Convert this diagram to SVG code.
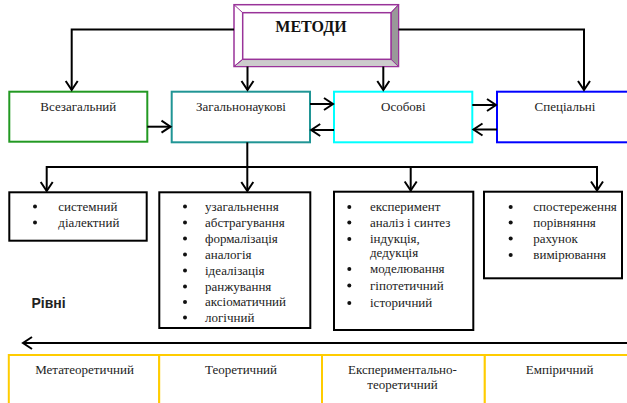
<svg xmlns="http://www.w3.org/2000/svg" width="627" height="403" viewBox="0 0 627 403">
<style>
.t{font-family:"Liberation Serif","Times New Roman",serif;font-size:13px;fill:#222}
.c{text-anchor:middle}
.dot{fill:#111}
.box{fill:#fff;stroke-width:2}
.lb{fill:#fff;stroke:#000;stroke-width:2}
.lvl{fill:#fff;stroke:#ffcc00;stroke-width:2}
.con{fill:none;stroke:#000;stroke-width:2}
</style>
<defs>
<marker id="arr" markerUnits="userSpaceOnUse" markerWidth="16" markerHeight="16" viewBox="-11 -8 13 16" refX="0" refY="0" orient="auto">
<path d="M-9,-6 L0,0 L-9,6" fill="none" stroke="#000" stroke-width="2"/>
</marker>
</defs>
<rect width="627" height="403" fill="#fff"/>

<g id="metody">
<rect x="234" y="4.7" width="164.5" height="61.8" fill="#fff" stroke="#993399" stroke-width="1.5"/>
<polygon points="398.5,4.7 398.5,66.5 391,59.3 391,12.7" fill="#999" stroke="#993399" stroke-width="1"/>
<polygon points="234,66.5 398.5,66.5 391,59.3 242.7,59.3" fill="#ccc" stroke="#993399" stroke-width="1"/>
<line x1="234" y1="4.7" x2="242.7" y2="12.7" stroke="#993399" stroke-width="1"/>
<line x1="398.5" y1="4.7" x2="391" y2="12.7" stroke="#993399" stroke-width="1"/>
<line x1="234" y1="66.5" x2="242.7" y2="59.3" stroke="#993399" stroke-width="1"/>
<rect x="242.7" y="12.7" width="148.3" height="46.6" fill="#fff" stroke="#993399" stroke-width="1.5"/>
<text x="311" y="32" text-anchor="middle" style="font-family:'Liberation Serif','Times New Roman',serif;font-size:16px;font-weight:bold;fill:#111">МЕТОДИ</text>
</g>

<g id="vsezagalnyi">
<rect class="box" x="9.3" y="91.7" width="138" height="50" stroke="#229922"/>
<text class="t c" x="78.3" y="111">Всезагальний</text>
</g>
<g id="zagalnonaukovi">
<rect class="box" x="171.7" y="91.7" width="138.3" height="50.6" stroke="#209595"/>
<text class="t c" x="241" y="110.5">Загальнонаукові</text>
</g>
<g id="osobovi">
<rect class="box" x="334" y="91.7" width="138.3" height="50.6" stroke="#00ffff"/>
<text class="t c" x="403.3" y="111">Особові</text>
</g>
<g id="spetsialni">
<rect class="box" x="497" y="91.7" width="136" height="50.6" stroke="#0000ff"/>
<text class="t c" x="565" y="111">Спеціальні</text>
</g>

<g id="list1">
<rect class="lb" x="9.3" y="192.3" width="137.4" height="48.4"/>
<circle class="dot" cx="35" cy="206.5" r="2"/><text class="t" x="58.3" y="210.5">системний</text>
<circle class="dot" cx="35" cy="222.5" r="2"/><text class="t" x="58.3" y="226.5">діалектний</text>
</g>
<g id="list2">
<rect class="lb" x="159.3" y="192.3" width="151" height="135.7"/>
<circle class="dot" cx="185" cy="206.5" r="2"/><text class="t" x="205" y="210.5">узагальнення</text>
<circle class="dot" cx="185" cy="222.5" r="2"/><text class="t" x="205" y="226.5">абстрагування</text>
<circle class="dot" cx="185" cy="238.5" r="2"/><text class="t" x="205" y="242.5">формалізація</text>
<circle class="dot" cx="185" cy="254.5" r="2"/><text class="t" x="205" y="258.5">аналогія</text>
<circle class="dot" cx="185" cy="270.5" r="2"/><text class="t" x="205" y="274.5">ідеалізація</text>
<circle class="dot" cx="185" cy="286.5" r="2"/><text class="t" x="205" y="290.5">ранжування</text>
<circle class="dot" cx="185" cy="302" r="2"/><text class="t" x="205" y="306">аксіоматичний</text>
<circle class="dot" cx="185" cy="317.5" r="2"/><text class="t" x="205" y="321.5">логічний</text>
</g>
<g id="list3">
<rect class="lb" x="334" y="191.7" width="139.3" height="138.3"/>
<circle class="dot" cx="349.3" cy="207" r="2"/><text class="t" x="370" y="211">експеримент</text>
<circle class="dot" cx="349.3" cy="222.5" r="2"/><text class="t" x="370" y="226.5">аналіз і синтез</text>
<circle class="dot" cx="349.3" cy="239" r="2"/><text class="t" x="370" y="243">індукція,</text>
<text class="t" x="370" y="256.5">дедукція</text>
<circle class="dot" cx="349.3" cy="269" r="2"/><text class="t" x="370" y="273">моделювання</text>
<circle class="dot" cx="349.3" cy="285.5" r="2"/><text class="t" x="370" y="289.5">гіпотетичний</text>
<circle class="dot" cx="349.3" cy="303" r="2"/><text class="t" x="370" y="307">історичний</text>
</g>
<g id="list4">
<rect class="lb" x="484" y="191.7" width="138" height="86.6"/>
<circle class="dot" cx="510.7" cy="207" r="2"/><text class="t" x="533.3" y="211">спостереження</text>
<circle class="dot" cx="510.7" cy="222.5" r="2"/><text class="t" x="533.3" y="226.5">порівняння</text>
<circle class="dot" cx="510.7" cy="238.5" r="2"/><text class="t" x="533.3" y="242.5">рахунок</text>
<circle class="dot" cx="510.7" cy="255" r="2"/><text class="t" x="533.3" y="259">вимірювання</text>
</g>

<g id="rivni">
<text x="31.5" y="308" style="font-family:'Liberation Sans',Arial,sans-serif;font-size:14px;font-weight:bold;fill:#222">Рівні</text>
</g>

<g id="levels">
<rect class="lvl" x="8.8" y="355" width="150.4" height="60"/>
<rect class="lvl" x="159.2" y="355" width="162.8" height="60"/>
<rect class="lvl" x="322" y="355" width="162.8" height="60"/>
<rect class="lvl" x="484.8" y="355" width="150" height="60"/>
<text class="t c" x="84.5" y="374">Метатеоретичний</text>
<text class="t c" x="241" y="374">Теоретичний</text>
<text class="t c" x="402.5" y="374">Експериментально-</text>
<text class="t c" x="402.5" y="389">теоретичний</text>
<text class="t c" x="559.6" y="374">Емпіричний</text>
</g>

<g id="connectors">
<polyline class="con" points="234,29.5 71.7,29.5 71.7,90" marker-end="url(#arr)"/>
<polyline class="con" points="398.5,29.5 584,29.5 584,90" marker-end="url(#arr)"/>
<line class="con" x1="247.5" y1="66.5" x2="247.5" y2="90" marker-end="url(#arr)"/>
<line class="con" x1="383.3" y1="66.5" x2="383.3" y2="90" marker-end="url(#arr)"/>
<line class="con" x1="147.3" y1="126.7" x2="170.5" y2="126.7" marker-end="url(#arr)"/>
<line class="con" x1="310" y1="104" x2="333" y2="104" marker-end="url(#arr)"/>
<line class="con" x1="334" y1="130" x2="311.2" y2="130" marker-end="url(#arr)"/>
<line class="con" x1="472.3" y1="105" x2="496" y2="105" marker-end="url(#arr)"/>
<line class="con" x1="497" y1="129.5" x2="473.5" y2="129.5" marker-end="url(#arr)"/>
<line class="con" x1="247.3" y1="142.3" x2="247.3" y2="191" marker-end="url(#arr)"/>
<line class="con" x1="46.7" y1="167" x2="597" y2="167"/>
<line class="con" x1="46.7" y1="166" x2="46.7" y2="191" marker-end="url(#arr)"/>
<line class="con" x1="410.7" y1="166" x2="410.7" y2="190.5" marker-end="url(#arr)"/>
<line class="con" x1="597" y1="166" x2="597" y2="190.5" marker-end="url(#arr)"/>
<line class="con" x1="630" y1="343" x2="23" y2="343" marker-end="url(#arr)"/>
</g>
</svg>
